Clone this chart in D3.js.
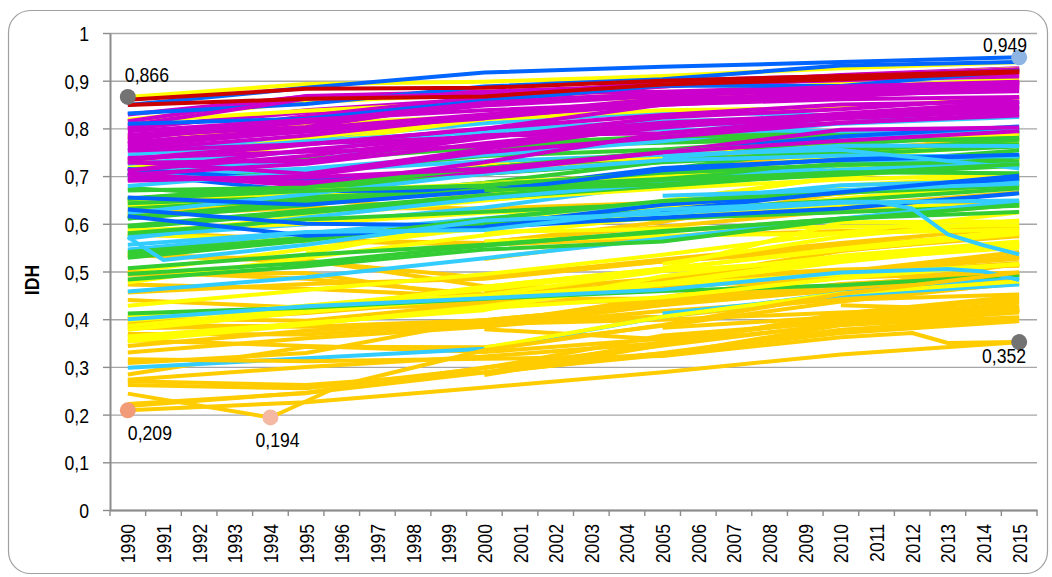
<!DOCTYPE html>
<html>
<head>
<meta charset="utf-8">
<script src="https://cdn.jsdelivr.net/npm/d3@7"></script>
<style>
body { margin: 0; background: #fff; }
svg text { font-family: "Liberation Sans", Arial, sans-serif; }
</style>
</head>
<body>
<svg id="chart" width="1052" height="577"></svg>
<script>
// tick labels (categories)
const years = [1990, 1991, 1992, 1993, 1994, 1995, 1996, 1997, 1998, 1999, 2000, 2001, 2002,
               2003, 2004, 2005, 2006, 2007, 2008, 2009, 2010, 2011, 2012, 2013, 2014, 2015];
// years at which each row below gives a value
const sampleYears = [1990, 1995, 2000, 2005, 2010, 2015];

// IDH by country, one row per country, null = no data
const africa = [
  [0.619, 0.654, 0.674, 0.714, 0.750, 0.781],
  [null, null, 0.714, 0.740, 0.753, 0.782],
  [0.584, 0.566, 0.560, 0.604, 0.665, 0.698],
  [0.619, 0.633, 0.632, 0.644, 0.663, 0.697],
  [0.621, 0.650, 0.629, 0.608, 0.638, 0.666],
  [0.578, 0.564, 0.556, 0.570, 0.610, 0.640],
  [null, null, 0.562, 0.594, 0.628, 0.648],
  [0.534, 0.521, 0.487, 0.525, 0.560, 0.592],
  [null, null, 0.526, 0.574, 0.585, 0.592],
  [0.456, 0.474, 0.485, 0.521, 0.555, 0.579],
  [0.401, 0.397, 0.433, 0.482, 0.543, 0.579],
  [null, null, 0.491, 0.521, 0.545, 0.574],
  [0.473, 0.464, 0.447, 0.479, 0.530, 0.555],
  [null, null, 0.390, 0.439, 0.495, 0.533],
  [0.536, 0.524, 0.469, 0.463, 0.499, 0.541],
  [0.369, 0.368, 0.391, 0.446, 0.496, 0.531],
  [null, null, null, 0.466, 0.499, 0.527],
  [0.440, 0.424, 0.437, 0.467, 0.492, 0.518],
  [0.499, 0.485, 0.452, 0.432, 0.464, 0.516],
  [0.391, 0.413, 0.442, 0.479, 0.499, 0.513],
  [null, null, 0.456, 0.486, 0.504, 0.512],
  [null, null, 0.456, 0.467, 0.487, 0.498],
  [0.493, 0.497, 0.443, 0.443, 0.472, 0.497],
  [0.381, 0.386, 0.384, 0.430, 0.461, 0.494],
  [0.308, 0.329, 0.398, 0.430, 0.474, 0.493],
  [0.344, 0.376, 0.398, 0.432, 0.463, 0.485],
  [0.404, 0.422, 0.430, 0.441, 0.459, 0.487],
  [0.284, 0.342, 0.341, 0.386, 0.437, 0.476],
  [0.389, 0.384, 0.398, 0.405, 0.444, 0.474],
  [0.330, 0.360, 0.384, 0.417, 0.441, 0.452],
  [null, null, 0.283, 0.346, 0.412, 0.448],
  [0.222, 0.245, 0.288, 0.352, 0.408, 0.442],
  [0.356, 0.344, 0.331, 0.359, 0.398, 0.435],
  [null, null, 0.379, 0.358, 0.399, 0.427],
  [null, null, 0.390, 0.399, 0.414, 0.424],
  [null, null, null, 0.382, 0.405, 0.420],
  [0.262, 0.255, 0.297, 0.366, 0.394, 0.420],
  [0.218, 0.246, 0.299, 0.345, 0.390, 0.418],
  [null, null, null, null, 0.429, 0.418],
  [0.273, 0.300, 0.322, 0.350, 0.388, 0.414],
  [0.270, 0.262, 0.289, 0.325, 0.388, 0.404],
  [null, null, 0.286, 0.329, 0.378, 0.402],
  [null, null, 0.299, 0.328, 0.371, 0.396],
  [0.209, 0.226, 0.257, 0.289, 0.326, 0.352]
];

const europe = [
  [0.801, 0.834, 0.860, 0.890, 0.912, 0.926],
  [0.799, 0.838, 0.862, 0.900, 0.910, 0.925],
  [0.829, 0.867, 0.876, 0.888, 0.911, 0.924],
  [0.770, 0.804, 0.857, 0.888, 0.908, 0.923],
  [0.815, 0.868, 0.877, 0.890, 0.901, 0.913],
  [0.775, 0.826, 0.866, 0.891, 0.902, 0.909],
  [0.784, 0.803, 0.857, 0.872, 0.884, 0.895],
  [0.806, 0.862, 0.873, 0.877, 0.888, 0.896],
  [0.794, 0.818, 0.838, 0.853, 0.880, 0.893],
  [0.786, 0.814, 0.854, 0.871, 0.888, 0.898],
  [0.779, 0.813, 0.848, 0.868, 0.882, 0.897],
  [0.767, 0.793, 0.824, 0.858, 0.876, 0.890],
  [0.755, 0.785, 0.825, 0.849, 0.867, 0.884],
  [0.761, 0.795, 0.821, 0.856, 0.871, 0.878],
  [0.769, 0.800, 0.829, 0.862, 0.871, 0.887],
  [0.728, 0.732, 0.780, 0.823, 0.840, 0.865],
  [0.753, 0.767, 0.799, 0.850, 0.861, 0.866],
  [0.733, 0.766, 0.800, 0.828, 0.850, 0.856],
  [0.712, 0.742, 0.785, 0.804, 0.831, 0.855],
  [0.730, 0.705, 0.757, 0.806, 0.827, 0.848],
  [0.736, 0.768, 0.782, 0.812, 0.829, 0.856],
  [0.738, 0.751, 0.763, 0.802, 0.829, 0.845],
  [0.711, 0.755, 0.785, 0.790, 0.822, 0.843],
  [0.703, 0.726, 0.769, 0.805, 0.821, 0.836],
  [0.705, 0.680, 0.729, 0.790, 0.812, 0.830],
  [0.690, 0.700, 0.750, 0.781, 0.812, 0.827],
  [0.703, 0.687, 0.709, 0.750, 0.797, 0.802],
  [0.694, 0.697, 0.715, 0.750, 0.774, 0.794]
];

const asiaPacific = [
  [0.866, 0.893, 0.898, 0.910, 0.926, 0.939],
  [0.818, 0.855, 0.872, 0.893, 0.904, 0.915],
  [0.718, 0.768, 0.819, 0.866, 0.909, 0.925],
  [0.781, 0.810, 0.825, 0.855, 0.898, 0.917],
  [0.814, 0.837, 0.855, 0.873, 0.885, 0.903],
  [0.731, 0.780, 0.820, 0.856, 0.884, 0.901],
  [0.782, 0.804, 0.819, 0.838, 0.843, 0.865],
  [0.643, 0.682, 0.725, 0.739, 0.772, 0.789],
  [0.626, 0.654, 0.685, 0.705, 0.741, 0.766],
  [0.572, 0.616, 0.665, 0.694, 0.743, 0.774],
  [0.574, 0.616, 0.649, 0.686, 0.720, 0.740],
  [0.499, 0.547, 0.592, 0.645, 0.700, 0.738],
  [0.578, 0.565, 0.589, 0.648, 0.698, 0.735],
  [0.640, 0.661, 0.678, 0.696, 0.716, 0.736],
  [0.646, 0.669, 0.683, 0.699, 0.711, 0.721],
  [null, 0.538, 0.604, 0.643, 0.680, 0.701],
  [null, 0.627, 0.650, 0.674, 0.693, 0.704],
  [0.531, 0.572, 0.606, 0.632, 0.665, 0.689],
  [0.586, 0.600, 0.623, 0.638, 0.669, 0.682],
  [0.477, 0.529, 0.576, 0.616, 0.653, 0.683],
  [null, null, 0.603, 0.620, 0.637, 0.638],
  [null, null, 0.468, 0.506, 0.603, 0.605],
  [null, null, 0.563, 0.575, 0.580, 0.588],
  [null, null, null, 0.516, 0.573, 0.607],
  [0.428, 0.461, 0.494, 0.535, 0.581, 0.624],
  [null, null, 0.583, 0.589, 0.594, 0.597],
  [0.397, 0.428, 0.462, 0.505, 0.548, 0.586],
  [0.386, 0.422, 0.468, 0.506, 0.545, 0.579],
  [0.364, 0.392, 0.419, 0.490, 0.533, 0.563],
  [0.378, 0.415, 0.446, 0.476, 0.527, 0.558],
  [0.353, 0.389, 0.427, 0.474, 0.520, 0.556],
  [0.404, 0.428, 0.450, 0.501, 0.525, 0.550],
  [null, null, 0.444, 0.473, 0.494, 0.515],
  [0.360, 0.391, 0.423, 0.446, 0.486, 0.516],
  [null, null, 0.340, 0.405, 0.454, 0.479]
];

const latinAmerica = [
  [0.701, 0.736, 0.761, 0.775, 0.783, 0.790],
  [0.705, 0.733, 0.760, 0.770, 0.778, 0.785],
  [0.692, 0.709, 0.742, 0.756, 0.780, 0.795],
  [0.714, 0.736, 0.760, 0.783, 0.792, 0.795],
  [null, null, 0.766, 0.783, 0.789, 0.792],
  [0.652, 0.680, 0.718, 0.740, 0.766, 0.788],
  [0.675, 0.653, 0.686, 0.730, 0.778, 0.775],
  [0.653, 0.679, 0.705, 0.731, 0.752, 0.776],
  [0.634, 0.649, 0.672, 0.714, 0.760, 0.767],
  [0.648, 0.671, 0.705, 0.729, 0.746, 0.762],
  [0.611, 0.649, 0.684, 0.699, 0.726, 0.754],
  [0.611, 0.639, 0.677, 0.694, 0.723, 0.740],
  [0.643, 0.656, 0.670, 0.693, 0.711, 0.739],
  [0.592, 0.623, 0.654, 0.679, 0.706, 0.727],
  [0.596, 0.628, 0.660, 0.684, 0.703, 0.722],
  [0.652, 0.669, 0.681, 0.707, 0.724, 0.730],
  [0.615, 0.642, 0.672, 0.692, 0.708, 0.706],
  [0.580, 0.609, 0.625, 0.642, 0.669, 0.693],
  [null, null, 0.670, 0.683, 0.705, 0.725],
  [0.536, 0.571, 0.603, 0.628, 0.649, 0.674],
  [0.529, 0.565, 0.610, 0.648, 0.665, 0.680],
  [0.541, 0.570, 0.599, 0.611, 0.624, 0.638],
  [0.495, 0.518, 0.554, 0.585, 0.610, 0.645],
  [0.483, 0.511, 0.546, 0.563, 0.609, 0.640],
  [0.507, 0.535, 0.556, 0.583, 0.611, 0.625],
  [0.412, 0.424, 0.443, 0.459, 0.471, 0.493],
  [0.670, 0.676, 0.717, 0.751, 0.772, 0.780]
];

const arabStates = [
  [0.754, 0.778, 0.811, 0.835, 0.827, 0.856],
  [0.726, 0.752, 0.797, 0.815, 0.824, 0.840],
  [0.698, 0.716, 0.744, 0.773, 0.811, 0.847],
  [0.745, 0.773, 0.794, 0.807, 0.810, 0.824],
  [0.713, 0.730, 0.792, 0.798, 0.794, 0.800],
  [null, null, null, null, 0.782, 0.796],
  [null, null, null, 0.739, 0.764, 0.763],
  [0.574, 0.599, 0.634, 0.683, 0.724, 0.745],
  [0.622, 0.662, 0.705, 0.733, 0.743, 0.741],
  [0.569, 0.613, 0.653, 0.685, 0.714, 0.725],
  [0.679, 0.710, 0.731, 0.745, 0.755, 0.716],
  [0.546, 0.580, 0.611, 0.645, 0.681, 0.691],
  [null, null, null, 0.659, 0.671, 0.684],
  [0.458, 0.488, 0.528, 0.569, 0.611, 0.647],
  [0.298, 0.318, 0.338, 0.405, 0.455, 0.490],
  [null, null, null, 0.412, 0.450, 0.473]
];

const europeCentralAsia = [
  [0.849, 0.885, 0.917, 0.929, 0.939, 0.949],
  [0.831, 0.851, 0.888, 0.903, 0.932, 0.939],
  [0.810, 0.820, 0.858, 0.890, 0.889, 0.921],
  [0.715, 0.690, 0.717, 0.750, 0.783, 0.804],
  [0.705, 0.668, 0.671, 0.717, 0.734, 0.743],
  [0.655, 0.640, 0.668, 0.712, 0.735, 0.745],
  [0.630, 0.600, 0.597, 0.640, 0.665, 0.695],
  [0.616, 0.575, 0.593, 0.613, 0.632, 0.664],
  [null, null, 0.594, 0.628, 0.666, 0.701]
];

const northAmerica = [
  [0.860, 0.883, 0.885, 0.900, 0.910, 0.920],
  [0.849, 0.862, 0.867, 0.892, 0.903, 0.918]
];

// countries whose path needs more years than sampleYears
const detailed = [
  { group: "arabStates", years: [1990, 1991, 1995, 2000, 2005, 2010, 2015],
    values: [0.572, 0.524, 0.556, 0.607, 0.621, 0.644, 0.649] },
  { group: "arabStates", years: [1990, 1995, 2000, 2005, 2010, 2011, 2012, 2013, 2014, 2015],
    values: [0.556, 0.583, 0.587, 0.630, 0.646, 0.646, 0.632, 0.578, 0.555, 0.536] },
  { group: "arabStates", years: [1990, 1995, 2000, 2005, 2010, 2013, 2014, 2015],
    values: [0.400, 0.427, 0.444, 0.462, 0.498, 0.505, 0.500, 0.482] },
  { group: "africa", years: [1990, 1994, 1996, 2000, 2005, 2010, 2015],
    values: [0.244, 0.194, 0.262, 0.335, 0.388, 0.453, 0.498] },
  { group: "africa", years: [1990, 1995, 2000, 2005, 2010, 2012, 2013, 2015],
    values: [0.316, 0.312, 0.317, 0.323, 0.362, 0.371, 0.350, 0.352] }
];

// marked extremes [year, value]
const highlights = [[1990, 0.866], [2015, 0.949], [2015, 0.352], [1990, 0.209], [1994, 0.194]];

const groups = { asiaPacific, africa, europe, arabStates, latinAmerica, europeCentralAsia };
const colors = {
  africa: "#FFCC00", europe: "#CC00CC", asiaPacific: "#FFFF00", latinAmerica: "#33CC33",
  arabStates: "#33CCFF", europeCentralAsia: "#0066FF", northAmerica: "#CC0000"
};

const svg = d3.select("#chart");
const plotLeft = 110, plotRight = 1037, plotTop = 33, plotBottom = 510;
const x = d3.scalePoint().domain(years).range([plotLeft, plotRight]).padding(0.5);
const xBand = d3.scaleBand().domain(years).range([plotLeft, plotRight]);
const y = d3.scaleLinear().domain([0, 1]).range([plotBottom, plotTop]);
const fr = d3.formatLocale({ decimal: ",", thousands: ".", grouping: [3], currency: ["", " €"] });
const tickFmt = fr.format(".1~f");
const valFmt = fr.format(".3f");
const squeeze = "scale(0.84,1)";
const fontSize = 21;

// frame
svg.append("rect").attr("x", 8.5).attr("y", 10.5).attr("width", 1039).attr("height", 563)
  .attr("rx", 22).attr("fill", "#fff").attr("stroke", "#a0a0a0").attr("stroke-width", 1.2);

// grid
svg.append("g").attr("transform", `translate(${plotLeft},0)`)
  .call(d3.axisLeft(y).ticks(10).tickSize(-(plotRight - plotLeft)).tickFormat(""))
  .call(g => g.select(".domain").remove())
  .selectAll("line").attr("stroke", "#a6a6a6").attr("stroke-width", 1.4);

// series: each region's rows spread evenly over the drawing order so colours mix
const toPts = r => sampleYears.map((yr, i) => ({ year: yr, v: r[i] }));
let series = [];
Object.keys(groups).forEach(k => {
  groups[k].forEach((r, i) => series.push({ color: colors[k], rank: (i + 0.5) / groups[k].length, pts: toPts(r) }));
});
series.sort((a, b) => a.rank - b.rank);
detailed.forEach(d => series.push({ color: colors[d.group], pts: d.years.map((yr, i) => ({ year: yr, v: d.values[i] })) }));
northAmerica.forEach(r => series.push({ color: colors.northAmerica, pts: toPts(r) }));

const line = d3.line().defined(d => d.v != null).x(d => x(d.year)).y(d => y(d.v));
svg.append("g").selectAll("path").data(series).join("path")
  .attr("d", d => line(d.pts))
  .attr("fill", "none").attr("stroke", d => d.color)
  .attr("stroke-width", 4).attr("stroke-linejoin", "round");

// y axis
const yAxis = svg.append("g").attr("transform", `translate(${plotLeft},0)`)
  .call(d3.axisLeft(y).ticks(10).tickSize(7).tickSizeOuter(0).tickFormat(tickFmt));
yAxis.attr("font-size", fontSize).attr("font-family", null);
yAxis.select(".domain").attr("stroke", "#8c8c8c").attr("stroke-width", 2);
yAxis.selectAll(".tick line").attr("stroke", "#8c8c8c").attr("stroke-width", 1.4);
yAxis.selectAll(".tick text").attr("x", null).attr("dy", null).attr("fill", "#000")
  .attr("transform", `translate(-21,7.5) ${squeeze}`);

// x axis
const xAxis = svg.append("g").attr("transform", `translate(0,${plotBottom})`)
  .call(d3.axisBottom(xBand).tickSize(0).tickSizeOuter(0));
xAxis.attr("font-size", fontSize).attr("font-family", null);
xAxis.select(".domain").attr("stroke", "#8c8c8c").attr("stroke-width", 2);
xAxis.selectAll(".tick text").attr("y", null).attr("dy", null).attr("fill", "#000")
  .attr("text-anchor", "end").attr("transform", `translate(7.5,14) rotate(-90) ${squeeze}`);
xAxis.selectAll(".edge").data(d3.range(years.length + 1)).join("line").attr("class", "edge")
  .attr("x1", i => xBand.range()[0] + i * xBand.step()).attr("x2", i => xBand.range()[0] + i * xBand.step())
  .attr("y1", 0).attr("y2", 6).attr("stroke", "#8c8c8c").attr("stroke-width", 1.4);

// axis title
svg.append("text").attr("transform", `translate(39,280) rotate(-90) ${squeeze}`)
  .attr("text-anchor", "middle").attr("font-size", fontSize).attr("font-weight", "bold").text("IDH");

// highlighted points
const dotColors = ["#737373", "#8DB4E2", "#737373", "#F29B79", "#F4B8A3"];
const labelPos = [[-3, -15, "start"], [8, -5, "end"], [7, 21, "end"], [0, 30, "start"], [-15, 30, "start"]];
svg.append("g").selectAll("circle").data(highlights).join("circle")
  .attr("cx", d => x(d[0])).attr("cy", d => y(d[1])).attr("r", 8)
  .attr("fill", (d, i) => dotColors[i]);
svg.append("g").selectAll("text").data(highlights).join("text")
  .attr("transform", (d, i) => `translate(${x(d[0]) + labelPos[i][0]},${y(d[1]) + labelPos[i][1]}) ${squeeze}`)
  .attr("text-anchor", (d, i) => labelPos[i][2])
  .attr("font-size", fontSize).attr("fill", "#000")
  .text(d => valFmt(d[1]));
</script>
</body>
</html>
